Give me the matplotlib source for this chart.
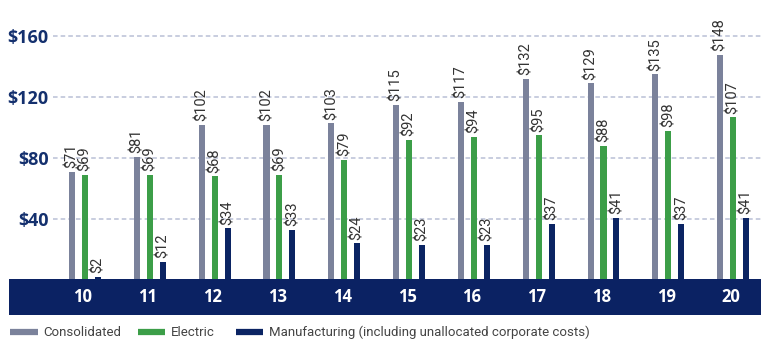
import matplotlib
matplotlib.use("Agg")
import matplotlib.pyplot as plt
from matplotlib.patches import Rectangle
from matplotlib.lines import Line2D
import numpy as np

categories = ["10", "11", "12", "13", "14", "15", "16", "17", "18", "19", "20"]
consolidated = [71, 81, 102, 102, 103, 115, 117, 132, 129, 135, 148]
electric = [69, 69, 68, 69, 79, 92, 94, 95, 88, 98, 107]
manufacturing = [2, 12, 34, 33, 24, 23, 23, 37, 41, 37, 41]
series_names = ["Consolidated", "Electric", "Manufacturing (including unallocated corporate costs)"]
yticks = [40, 80, 120, 160]
ytick_labels = ["$40", "$80", "$120", "$160"]

c_cons = "#7B829B"
c_elec = "#3C9E48"
c_manu = "#0B2463"
navy = "#0B2263"

W, H = 761, 341
fig = plt.figure(figsize=(W / 100, H / 100), dpi=100)
ax = fig.add_axes([53 / W, (H - 280) / H, 1 - 53 / W, 259 / H])

x = np.arange(len(categories))
off = 0.2
bw = 0.093
label_font = ["Roboto", "DejaVu Sans"]
for vals, dx, col in [(consolidated, -off, c_cons), (electric, 0, c_elec), (manufacturing, off, c_manu)]:
    ax.bar(x + dx, vals, width=bw, color=col, zorder=3)
    for xi, v in zip(x, vals):
        ax.annotate(f"${v}", (xi + dx, v), xytext=(0, 2.5), textcoords="offset points",
                    rotation=90, ha="center", va="bottom", fontsize=10.5,
                    color="#333333", family=label_font)

ax.set_xlim(-0.494, 10.43)
ax.set_ylim(0, 170)
ax.set_yticks(yticks)
ax.set_yticklabels(ytick_labels, fontsize=13, fontweight="bold", color="#14306E",
                   family=["Open Sans", "DejaVu Sans"])
ax.tick_params(axis="y", length=0, pad=3)
ax.set_xticks([])
for s in ax.spines.values():
    s.set_visible(False)
ax.grid(axis="y", color="#B9C0D6", linestyle=(0, (3, 2)), linewidth=1.1, zorder=0)

# navy band
band = Rectangle((9 / W, (H - 315) / H), 1 - 9 / W, 36 / H, transform=fig.transFigure,
                 facecolor=navy, edgecolor="none", zorder=5)
fig.patches.append(band)
for xi, c in zip(x, categories):
    xf = ax.transData.transform((xi, 0))[0] - 2
    fig.text(xf / W, (H - 297) / H, c, ha="center", va="center", color="white",
             fontsize=12, fontweight="bold", family=["Open Sans", "DejaVu Sans"], zorder=6)

# legend (manual placement)
leg_y = (H - 332) / H
patch_x = [(10, 38), (138, 165), (236, 263)]
text_x = [43, 171, 269]
for (x0, x1), tx, col, name in zip(patch_x, text_x, (c_cons, c_elec, c_manu), series_names):
    fig.add_artist(Line2D([x0 / W, x1 / W], [leg_y, leg_y], transform=fig.transFigure,
                          color=col, lw=4.5, solid_capstyle="butt"))
    fig.text(tx / W, leg_y, name, ha="left", va="center", fontsize=9.5,
             color="#444444", family=label_font)

fig.savefig("out.png", dpi=100)
